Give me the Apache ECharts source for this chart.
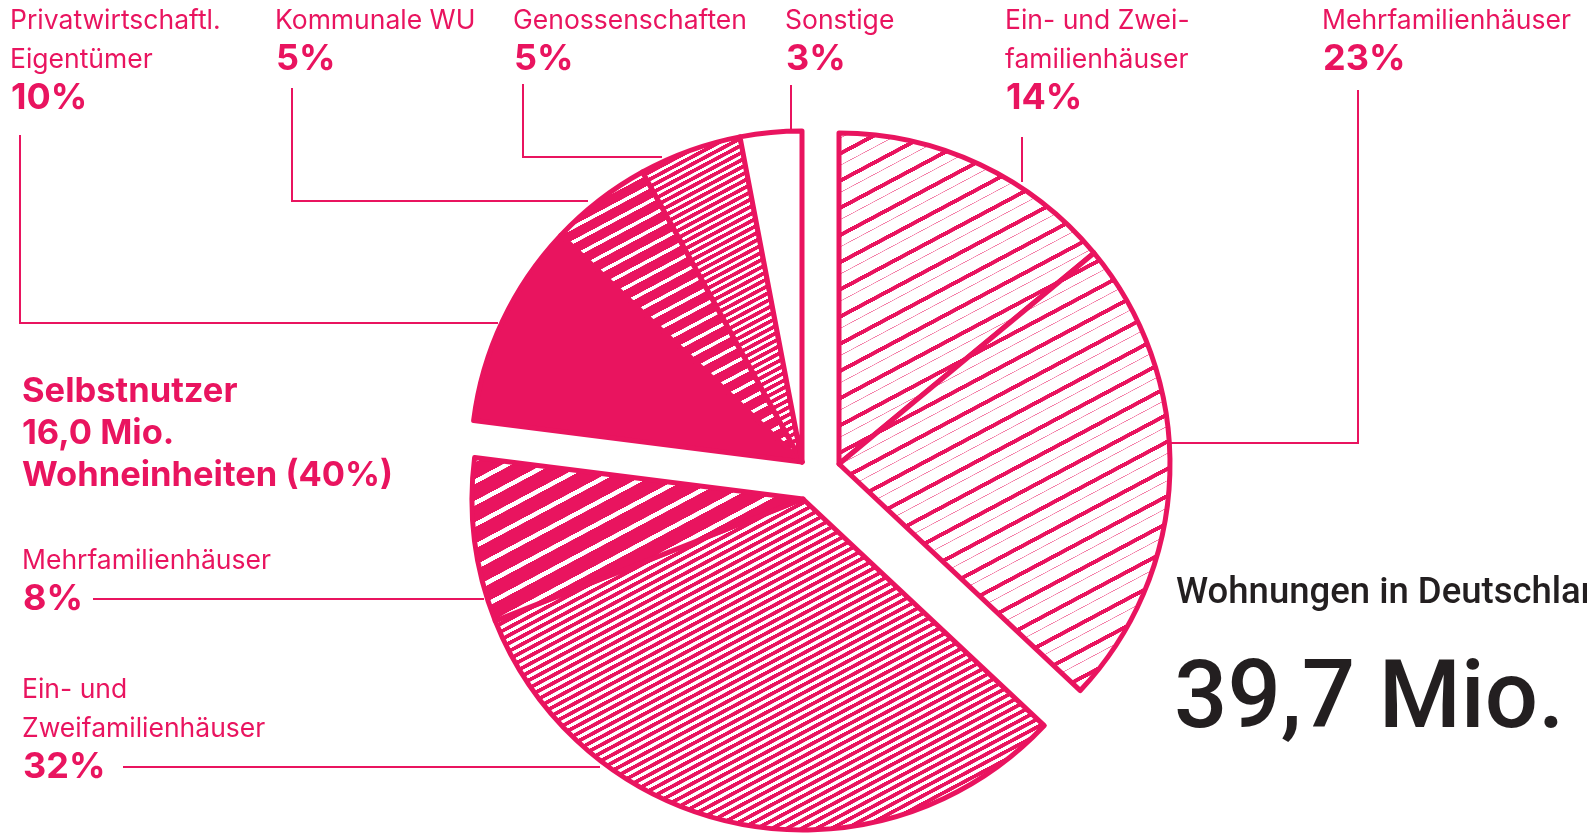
<!DOCTYPE html>
<html lang="de">
<head>
<meta charset="utf-8">
<title>Wohnungen in Deutschland</title>
<script src="https://cdn.jsdelivr.net/npm/echarts@6/dist/echarts.min.js"></script>
<style>
  html, body { margin: 0; padding: 0; background: #fff; }
  #chart { width: 1587px; height: 835px; }
</style>
</head>
<body>
<div id="chart"></div>
<script>
// Anteile in %, im Uhrzeigersinn ab 12 Uhr
const rentNames = ['Ein- und Zwei-\nfamilienhäuser', 'Mehrfamilienhäuser'];
const rentValues = [14, 23];
const ownerNames = ['Ein- und\nZweifamilienhäuser', 'Mehrfamilienhäuser'];
const ownerValues = [32, 8];
const landlordNames = ['Privatwirtschaftl.\nEigentümer', 'Kommunale WU', 'Genossenschaften', 'Sonstige'];
const landlordValues = [10, 5, 5, 3];
const ownerTitle = ['Selbstnutzer', '16,0 Mio.', 'Wohneinheiten'];
const totalTitle = 'Wohnungen in Deutschland';
const totalValue = '39,7 Mio.';

const PINK = '#e9145f';
const DARK = '#231f20';
const R = 331;
const HATCH = 28 * Math.PI / 180;
const TOTAL = [...rentValues, ...ownerValues, ...landlordValues].reduce((a, b) => a + b, 0);

// label positions (x, first baseline) and leader lines
const rentLabels = [
  { x: 1005, y: 31, line: [[1022, 137], [1022, 182]] },
  { x: 1322, y: 31, line: [[1358, 90], [1358, 443], [1160, 443]] }
];
const ownerLabels = [
  { x: 22, y: 700, line: [[123, 767], [600, 767]] },
  { x: 22, y: 571, line: [[93, 599], [484, 599]] }
];
const landlordLabels = [
  { x: 10, y: 31, line: [[20, 135], [20, 323], [498, 323]] },
  { x: 275, y: 31, line: [[292, 88], [292, 201], [588, 201]] },
  { x: 513, y: 31, line: [[523, 84], [523, 157], [662, 157]] },
  { x: 785, y: 31, line: [[791, 85], [791, 132]] }
];

// striped fill, drawn at 4x then scaled down
function stripes(period, bands, bg) {
  const k = 4;
  const c = document.createElement('canvas');
  c.width = 8 * k;
  c.height = Math.round(period * k);
  const ctx = c.getContext('2d');
  if (bg) { ctx.fillStyle = bg; ctx.fillRect(0, 0, c.width, c.height); }
  bands.forEach(([y, h, col]) => { ctx.fillStyle = col; ctx.fillRect(0, y * k, c.width, h * k); });
  return { image: c, repeat: 'repeat', rotation: -HATCH, scaleX: 1 / k, scaleY: 1 / k };
}

const thinHatch = stripes(24, [[0, 4, PINK], [12, 0.8, 'rgba(233,20,95,0.55)']], '#fff');
const denseHatch = stripes(7, [[0, 3.8, PINK]], '#fff');
const wideWhite = stripes(19, [[0, 4.5, '#fff']], PINK);
const midWhite = stripes(13, [[0, 3.5, '#fff']], PINK);
const fineHatch = stripes(6.6, [[0, 3.8, PINK]], '#fff');

const rentStyles = [{ color: thinHatch }, { color: thinHatch }];
const ownerStyles = [{ color: denseHatch }, { color: wideWhite }];
const landlordStyles = [{ color: PINK }, { color: midWhite }, { color: fineHatch }, { color: '#fff' }];

function pieSeries(names, values, before, center, styles) {
  const shown = values.reduce((a, b) => a + b, 0);
  const data = values.map((v, i) => ({ name: names[i].replace('\n', ' '), value: v, itemStyle: styles[i] }));
  data.push({ name: 'rest', value: TOTAL - shown, itemStyle: { color: 'rgba(0,0,0,0)', borderWidth: 0 } });
  return {
    type: 'pie', center, radius: R,
    startAngle: 90 - 360 * before / TOTAL, clockwise: true,
    silent: true, selectedMode: false, avoidLabelOverlap: false,
    label: { show: false }, labelLine: { show: false },
    emphasis: { disabled: true },
    itemStyle: { borderColor: PINK, borderWidth: 5 },
    data
  };
}

// y given as baseline; shift depends on the font's middle line
function text(x, baseline, str, size, weight, family, fill) {
  const mid = family === 'Roboto' ? 0.25 : 0.36;
  return {
    type: 'text', x, y: baseline - mid * size,
    style: {
      text: str, fill, font: `${weight} ${size}px ${family}`,
      align: 'left', verticalAlign: 'middle', textAlign: 'left', textVerticalAlign: 'middle'
    }
  };
}

function labelEls(names, values, layout) {
  const els = [];
  names.forEach((name, i) => {
    const pos = layout[i];
    const lines = name.split('\n');
    lines.forEach((t, j) => els.push(text(pos.x, pos.y + j * 39, t, 26.5, 400, 'Inter', PINK)));
    els.push(text(pos.x + 1, pos.y + lines.length * 39 + 2, values[i] + '%', 36, 700, 'Inter', PINK));
    els.push({ type: 'polyline', shape: { points: pos.line }, style: { stroke: PINK, lineWidth: 2, fill: null } });
  });
  return els;
}

const ownerShare = ownerValues.reduce((a, b) => a + b, 0);
const rentShare = rentValues.reduce((a, b) => a + b, 0);

const graphics = [
  ...labelEls(rentNames, rentValues, rentLabels),
  ...labelEls(ownerNames, ownerValues, ownerLabels),
  ...labelEls(landlordNames, landlordValues, landlordLabels),
  text(22, 404, ownerTitle[0], 34.5, 700, 'Inter', PINK),
  text(22, 446, ownerTitle[1], 34.5, 700, 'Inter', PINK),
  text(22, 488, `${ownerTitle[2]} (${ownerShare}%)`, 34.5, 700, 'Inter', PINK),
  text(1176, 603, totalTitle, 36.5, 500, 'Roboto', DARK),
  text(1174, 727, totalValue, 94, 500, 'Roboto', DARK)
];

const chart = echarts.init(document.getElementById('chart'), null, { renderer: 'canvas' });
chart.setOption({
  animation: false,
  backgroundColor: '#fff',
  series: [
    pieSeries(rentNames, rentValues, 0, [839, 464], rentStyles),
    pieSeries(ownerNames, ownerValues, rentShare, [803, 499], ownerStyles),
    pieSeries(landlordNames, landlordValues, rentShare + ownerShare, [802, 462], landlordStyles)
  ],
  graphic: { elements: graphics }
});
window.addEventListener('resize', () => chart.resize());
</script>
</body>
</html>
